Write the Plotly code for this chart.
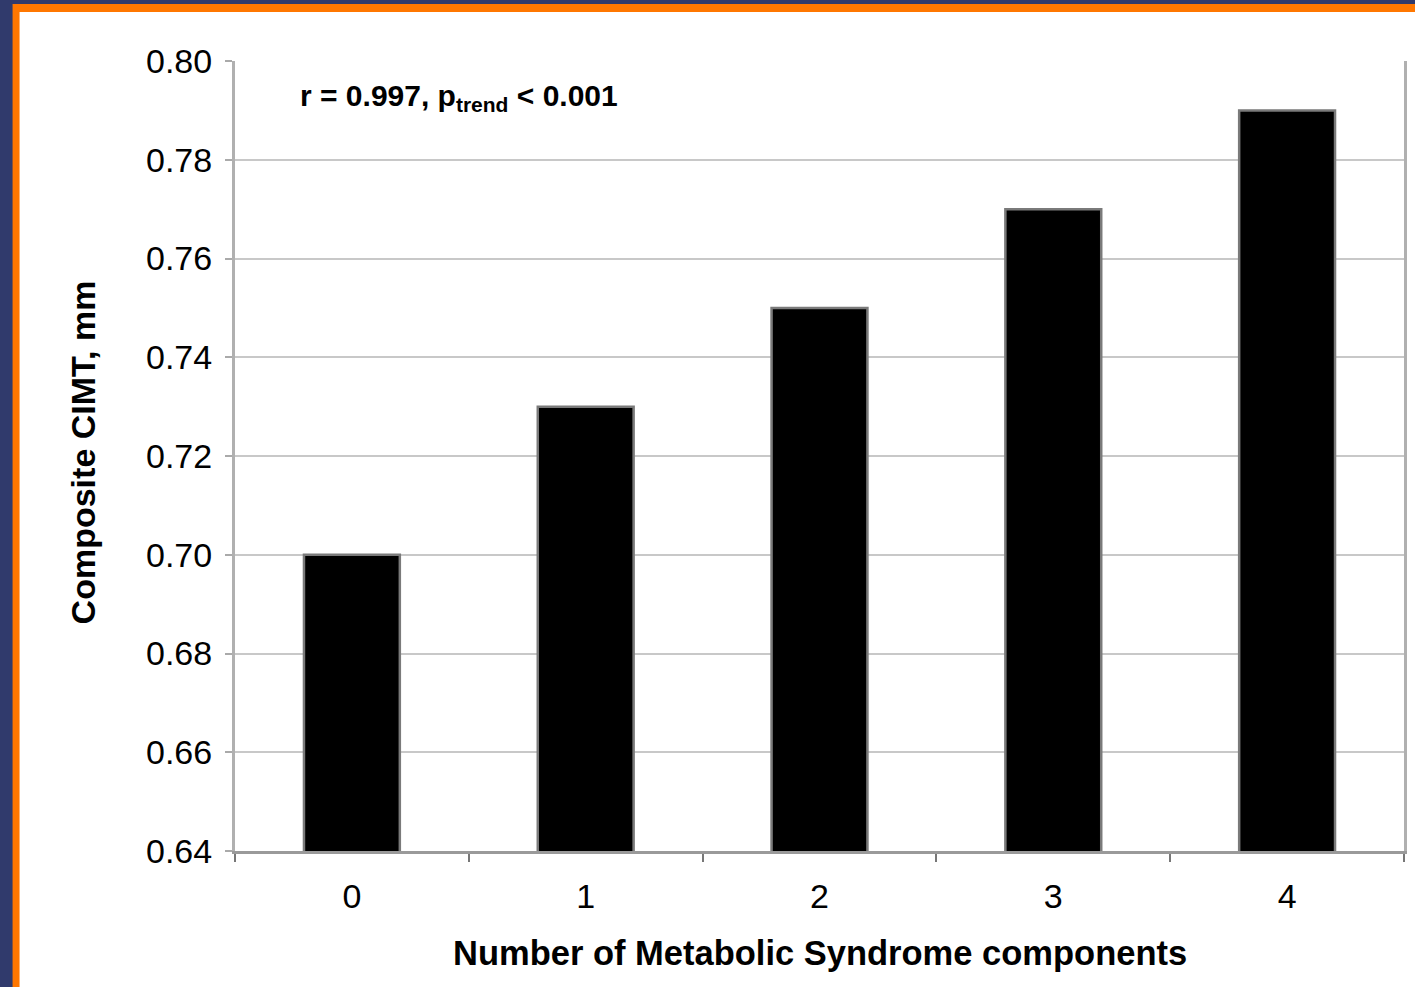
import plotly.graph_objects as go

categories = ["0", "1", "2", "3", "4"]
cimt_values = [0.70, 0.73, 0.75, 0.77, 0.79]
y_ticks = [0.64, 0.66, 0.68, 0.70, 0.72, 0.74, 0.76, 0.78, 0.80]
y_title = "Composite CIMT, mm"
x_title = "Number of Metabolic Syndrome components"
stat_text = "r = 0.997, p<sub>trend</sub> < 0.001"

W, H = 1415, 987
ML, MR, MT, MB = 235, 8, 61, 136
PW, PH = W - ML - MR, H - MT - MB

def px(x):
    return (x - ML) / PW

def py(y):
    return (H - MB - y) / PH

FONT = "Liberation Sans, Arial, sans-serif"

fig = go.Figure()
fig.add_trace(go.Bar(
    x=categories, y=cimt_values, width=0.41,
    marker=dict(color="black", line=dict(color="#7a7a7a", width=2.5)),
))

shapes = [
    dict(type="rect", xref="paper", yref="paper", x0=px(12), x1=px(W + 5), y0=py(4), y1=py(H + 5),
         fillcolor="#FF7700", line=dict(width=0), layer="below"),
    dict(type="rect", xref="paper", yref="paper", x0=px(19), x1=px(W + 5), y0=py(12), y1=py(H + 5),
         fillcolor="white", line=dict(width=0), layer="below"),
]

annotations = [
    dict(text="<b>" + stat_text + "</b>", xref="paper", yref="paper", x=px(298), y=py(97),
         xanchor="left", yanchor="middle", showarrow=False,
         font=dict(family=FONT, size=30, color="black")),
    dict(text="<b>" + y_title + "</b>", xref="paper", yref="paper", x=px(83), y=py(452),
         xanchor="center", yanchor="middle", showarrow=False, textangle=-90,
         font=dict(family=FONT, size=34, color="black")),
    dict(text="<b>" + x_title + "</b>", xref="paper", yref="paper", x=px(821), y=py(953),
         xanchor="center", yanchor="middle", showarrow=False,
         font=dict(family=FONT, size=34.5, color="black")),
]

fig.update_layout(
    width=W, height=H,
    margin=dict(l=ML, r=MR, t=MT, b=MB, pad=0),
    paper_bgcolor="#303A6C",
    plot_bgcolor="rgba(0,0,0,0)",
    showlegend=False,
    shapes=shapes,
    annotations=annotations,
    font=dict(family=FONT, color="black"),
    bargap=0.59,
)
fig.update_xaxes(
    type="category", range=[-0.5, 4.5], showgrid=False,
    showline=True, linecolor="#9a9a9a", linewidth=3,
    ticks="outside", tickson="boundaries", ticklen=8, tickwidth=2, tickcolor="#777777",
    tickfont=dict(family=FONT, size=34, color="black"),
    ticklabelstandoff=13,
)
fig.update_yaxes(
    range=[0.64, 0.80], tickvals=y_ticks, tickformat=".2f",
    showgrid=True, gridcolor="#c8c8c8", gridwidth=2, zeroline=False,
    showline=True, linecolor="#b0b0b0", linewidth=3, mirror=True,
    ticks="outside", ticklen=7, tickwidth=2, tickcolor="#aaaaaa",
    tickfont=dict(family=FONT, size=34, color="black"),
    ticklabelstandoff=6,
)

fig.write_html("out.html")
